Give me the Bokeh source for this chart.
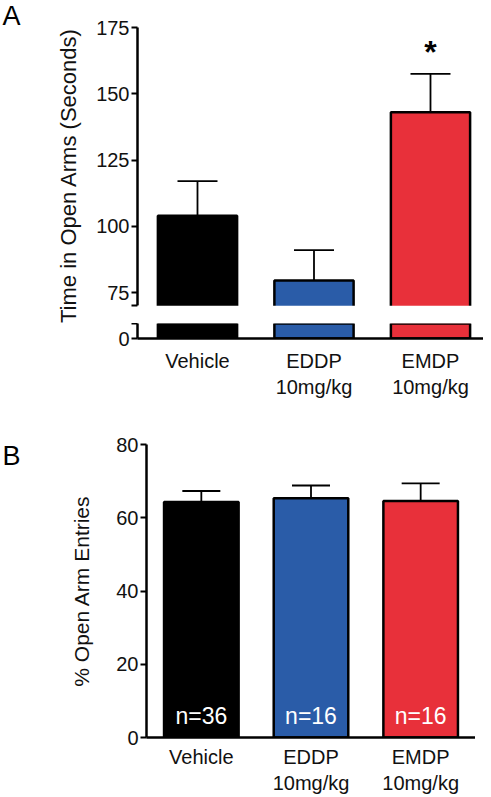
from bokeh.plotting import figure
from bokeh.layouts import column, row
from bokeh.models import Range1d, FixedTicker, BoxAnnotation
from bokeh.core.properties import value
from bokeh.embed import file_html
from bokeh.resources import INLINE

# ---- data ----
groups = ["Vehicle", "EDDP\n10mg/kg", "EMDP\n10mg/kg"]
colors = ["#000000", "#2a5ca8", "#e8303a"]
time_mean = [104, 79.5, 143]
time_sem = [13, 11.5, 14.5]
entries_mean = [64.3, 65.3, 64.6]
entries_sem = [3.0, 3.5, 4.8]
n_labels = ["n=36", "n=16", "n=16"]
a_break = 70
a_upper_ticks = [70, 75, 100, 125, 150, 175]
a_lower_top = 5.66
b_ticks = [0, 20, 40, 60, 80]
sig_marks = ["", "", "*"]
panel_letters = ["A", "B"]

FONT = "Liberation Sans"
xs = list(range(len(groups)))
xlabels = {i: g for i, g in enumerate(groups)}
LW = 24   # width of the panel-letter strip
LH = 790  # height of the panel-letter strip


def style_axes(p):
    for ax in p.axis:
        ax.axis_line_width = 2.5
        ax.major_tick_line_width = 2
        ax.minor_tick_line_color = None
        ax.major_label_text_font = FONT
        ax.major_label_text_font_size = "20px"
        ax.major_label_text_color = "#111111"
        ax.axis_label_text_font = FONT
        ax.axis_label_text_font_style = "normal"
        ax.axis_label_text_color = "#111111"
    p.grid.visible = False
    p.outline_line_color = None


def style_y(p, ticks):
    p.yaxis.ticker = FixedTicker(ticks=ticks)
    p.yaxis.major_tick_out = 6
    p.yaxis.major_tick_in = 0
    p.yaxis.major_label_standoff = 2


def style_x(p, standoff):
    p.xaxis.ticker = FixedTicker(ticks=xs)
    p.xaxis.major_label_overrides = xlabels
    p.xaxis.major_tick_out = 0
    p.xaxis.major_tick_in = 0
    p.xaxis.major_label_standoff = standoff


def add_bars(p, means, sems, cap):
    upper = [m + s for m, s in zip(means, sems)]
    p.segment(x0=xs, x1=xs, y0=means, y1=upper, line_color="black", line_width=1.8)
    p.scatter(x=xs, y=upper, marker="dash", size=cap, line_color="black", line_width=1.8)
    p.vbar(x=xs, top=means, bottom=0, width=0.68, fill_color=colors,
           line_color="black", line_width=2.5)


xr_a = Range1d(-0.515, 2.455)

# ---- Panel A, upper segment (frame also spans the white break gap) ----
pa = figure(frame_width=346, frame_height=296, x_range=xr_a,
            y_range=Range1d(175 - 296 / 2.65, 175), output_backend="svg",
            toolbar_location=None, min_border_left=137 - LW, min_border_right=0,
            min_border_top=27, min_border_bottom=0, x_axis_location=None)
add_bars(pa, time_mean, time_sem, 40)
pa.add_layout(BoxAnnotation(top=a_break, fill_color="white", fill_alpha=1,
                            line_color=None, level="overlay"))
pa.text(x=xs, y=[m + s + 8.3 for m, s in zip(time_mean, time_sem)], text=sig_marks,
        text_font=value(FONT), text_font_size="32px", text_font_style="bold",
        text_align="center", text_baseline="middle", text_color="black")
style_axes(pa)
style_y(pa, a_upper_ticks)
pa.yaxis.bounds = (a_break, 175)
pa.yaxis.major_label_overrides = {a_break: ""}
pa.yaxis.axis_label = "Time in Open Arms (Seconds)"
pa.yaxis.axis_label_text_font_size = "22px"
pa.yaxis.axis_label_standoff = 12

# ---- Panel A, lower segment ----
pl = figure(frame_width=346, frame_height=15, x_range=xr_a, y_range=Range1d(0, a_lower_top),
            output_backend="svg", toolbar_location=None,
            min_border_left=137 - LW, min_border_right=0, min_border_top=0,
            min_border_bottom=64)
add_bars(pl, time_mean, time_sem, 40)
style_axes(pl)
style_x(pl, 11)
style_y(pl, [0, a_lower_top])
pl.yaxis.major_label_overrides = {a_lower_top: ""}

# ---- Panel B ----
pb = figure(frame_width=329, frame_height=293, x_range=Range1d(-0.5, 2.5),
            y_range=Range1d(0, 80), output_backend="svg", toolbar_location=None,
            min_border_left=146 - LW, min_border_right=0, min_border_top=42,
            min_border_bottom=50)
add_bars(pb, entries_mean, entries_sem, 38)
pb.text(x=xs, y=[6] * 3, text=n_labels, text_font=value(FONT),
        text_font_size="23px", text_align="center", text_baseline="middle",
        text_color="white")
style_axes(pb)
style_x(pb, 8)
style_y(pb, b_ticks)
pb.yaxis.axis_label = "% Open Arm Entries"
pb.yaxis.axis_label_text_font_size = "21px"
pb.yaxis.axis_label_standoff = 20

# ---- strip with the panel letters ----
lf = figure(title_location=None, frame_width=LW, frame_height=LH,
            x_range=Range1d(0, LW), y_range=Range1d(0, LH),
            output_backend="svg", toolbar_location=None, min_border=0,
            x_axis_location=None, y_axis_location=None)
lf.grid.visible = False
lf.outline_line_color = None
lf.text(x=[2, 2], y=[LH - 15, LH - 455], text=panel_letters, text_font=value(FONT),
        text_font_size="27px", text_baseline="middle", text_align="left",
        text_color="black")

# rows wrap each panel so that the column does not align their frames
layout = row(lf, column(column(pa, pl, spacing=0), row(pb), spacing=0), spacing=0)
open("out.html", "w").write(file_html(layout, INLINE))
